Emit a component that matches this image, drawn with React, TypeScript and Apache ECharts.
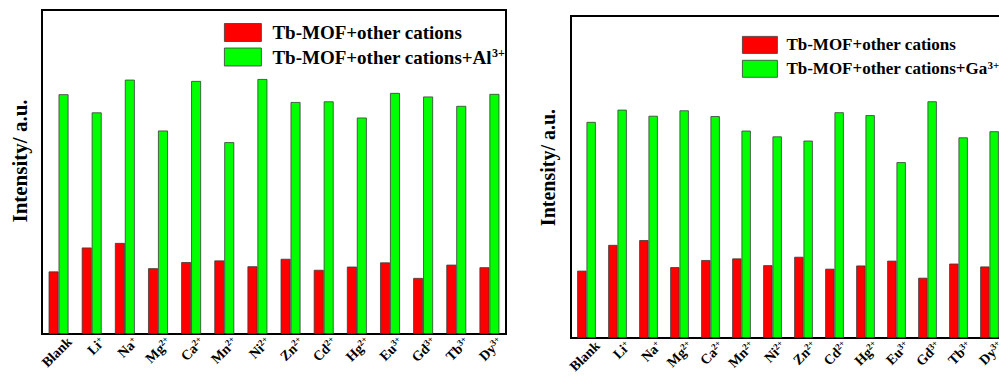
import React, { useEffect, useRef } from "react";
import * as echarts from "echarts";

const categories = ["Blank", "Li+", "Na+", "Mg2+", "Ca2+", "Mn2+", "Ni2+", "Zn2+", "Cd2+", "Hg2+", "Eu3+", "Gd3+", "Tb3+", "Dy3+"];

const seriesBase = "Tb-MOF+other cations";
const seriesAl = "Tb-MOF+other cations+Al3+";
const seriesGa = "Tb-MOF+other cations+Ga3+";

const alRed = [193, 267, 281, 203, 222, 227, 209, 232, 198, 208, 221, 173, 214, 206];
const alGreen = [740, 684, 785, 628, 781, 592, 787, 716, 718, 668, 744, 733, 704, 741];
const gaRed = [209, 289, 304, 220, 242, 247, 226, 252, 215, 225, 240, 187, 231, 222];
const gaGreen = [671, 709, 690, 707, 689, 644, 626, 613, 701, 692, 546, 735, 623, 642];

const yTitle = "Intensity/ a.u.";
const FONT = "'Liberation Serif', 'Times New Roman', serif";

const labelFmt = (s: string) => {
  const m = s.match(/^([A-Za-z]+)(\d*[+\-])?$/);
  if (!m || !m[2]) return `{b|${s}}`;
  return `{b|${m[1]}}{s|${m[2]}}`;
};

const legendFmt = (name: string) => {
  if (name.endsWith("3+")) return `{a|${name.slice(0, -2)}}{s|3+}`;
  return `{a|${name}}`;
};

export default function App() {
  const ref = useRef<HTMLDivElement>(null);
  useEffect(() => {
    if (!ref.current) return;
    const chart = echarts.init(ref.current, undefined, { renderer: "svg" });
    const axisLabel = {
      interval: 0,
      rotate: 45,
      margin: 6,
      verticalAlign: "top",
      padding: [0, -8, 0, 0],
      formatter: labelFmt,
      rich: {
        b: { fontFamily: FONT, fontWeight: "bold", fontSize: 14, color: "#000", lineHeight: 15 },
        s: { fontFamily: FONT, fontWeight: "bold", fontSize: 9, color: "#000", verticalAlign: "top", lineHeight: 9 },
      },
    };
    const xCommon = {
      type: "category",
      data: categories,
      axisLine: { show: false },
      axisTick: { show: false },
      axisLabel,
    };
    const yCommon = {
      type: "value",
      min: 0,
      max: 1000,
      axisLine: { show: false },
      axisTick: { show: false },
      axisLabel: { show: false },
      splitLine: { show: false },
    };
    const barStyle = (color: string) => ({ color, borderColor: "#3a3a3a", borderWidth: 0.8 });
    const legendCommon = {
      orient: "vertical",
      padding: 0,
      icon: "rect",
      formatter: legendFmt,
      selectedMode: false,
    };
    chart.setOption({
      animation: false,
      backgroundColor: "#fff",
      grid: [
        { left: 42, right: 504, top: 10, bottom: 42, show: true, borderColor: "#000", borderWidth: 2, backgroundColor: "transparent" },
        { left: 571, right: 5, top: 16, bottom: 38, show: true, borderColor: "#000", borderWidth: 2, backgroundColor: "transparent" },
      ],
      xAxis: [
        { ...xCommon, gridIndex: 0 },
        { ...xCommon, gridIndex: 1 },
      ],
      yAxis: [
        { ...yCommon, gridIndex: 0 },
        { ...yCommon, gridIndex: 1 },
      ],
      legend: [
        {
          ...legendCommon,
          left: 224,
          top: 23,
          itemWidth: 37,
          itemHeight: 18,
          itemGap: 5,
          data: [seriesBase, seriesAl],
          itemStyle: { borderColor: "#3a3a3a", borderWidth: 0.8 },
          textStyle: {
            rich: {
              a: { fontFamily: FONT, fontWeight: "bold", fontSize: 19, color: "#000", lineHeight: 20, padding: [0, 0, 0, 6] },
              s: { fontFamily: FONT, fontWeight: "bold", fontSize: 12, color: "#000", verticalAlign: "top", lineHeight: 12 },
            },
          },
        },
        {
          ...legendCommon,
          left: 742,
          top: 36,
          itemWidth: 35,
          itemHeight: 17,
          itemGap: 6,
          data: [seriesBase, seriesGa],
          itemStyle: { borderColor: "#3a3a3a", borderWidth: 0.8 },
          textStyle: {
            rich: {
              a: { fontFamily: FONT, fontWeight: "bold", fontSize: 17, color: "#000", lineHeight: 18, padding: [0, 0, 0, 4] },
              s: { fontFamily: FONT, fontWeight: "bold", fontSize: 11, color: "#000", verticalAlign: "top", lineHeight: 11 },
            },
          },
        },
      ],
      graphic: [
        {
          type: "text",
          x: 19.5,
          y: 161,
          rotation: Math.PI / 2,
          style: { text: yTitle, fontFamily: FONT, fontWeight: "bold", fontSize: 21, fill: "#000", align: "center", verticalAlign: "middle" },
        },
        {
          type: "text",
          x: 548,
          y: 167.5,
          rotation: Math.PI / 2,
          style: { text: yTitle, fontFamily: FONT, fontWeight: "bold", fontSize: 20, fill: "#000", align: "center", verticalAlign: "middle" },
        },
      ],
      series: [
        { name: seriesBase, type: "bar", xAxisIndex: 0, yAxisIndex: 0, data: alRed, itemStyle: barStyle("#ff0000"), barGap: "0%", barCategoryGap: "40%" },
        { name: seriesAl, type: "bar", xAxisIndex: 0, yAxisIndex: 0, data: alGreen, itemStyle: barStyle("#00ff00"), barGap: "0%", barCategoryGap: "40%" },
        { name: seriesBase, type: "bar", xAxisIndex: 1, yAxisIndex: 1, data: gaRed, itemStyle: barStyle("#ff0000"), barGap: "0%", barCategoryGap: "40%" },
        { name: seriesGa, type: "bar", xAxisIndex: 1, yAxisIndex: 1, data: gaGreen, itemStyle: barStyle("#00ff00"), barGap: "0%", barCategoryGap: "40%" },
      ],
    });
    return () => chart.dispose();
  }, []);
  return (
    <div style={{ position: "absolute", left: 0, top: 0, width: 999, height: 376, overflow: "hidden", background: "#fff" }}>
      <div ref={ref} style={{ width: 1010, height: 376 }} />
    </div>
  );
}
